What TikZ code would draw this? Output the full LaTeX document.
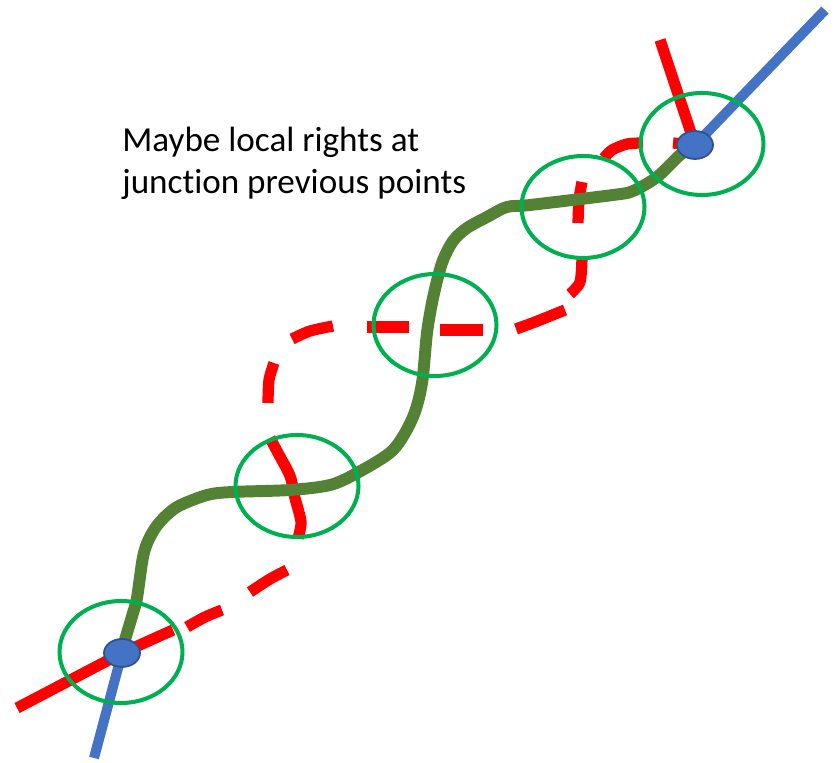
\documentclass[tikz,border=0pt]{standalone}
\usepackage{fontspec}
\setmainfont{Carlito}[Ligatures=NoCommon]
\usetikzlibrary{shapes.geometric}
\definecolor{linkblue}{HTML}{4472C4}
\definecolor{linkedge}{HTML}{2F528F}
\definecolor{zone}{HTML}{00B050}
\definecolor{route}{HTML}{548235}
\definecolor{rights}{HTML}{FF0000}
\begin{document}
\begin{tikzpicture}[x=0.02cm,y=-0.02cm,
  zonering/.style={draw=zone,line width=2.3pt,ellipse,inner sep=0pt,minimum width=2.46cm,minimum height=2.04cm},
  junction/.style={draw=linkedge,line width=1pt,fill=linkblue,ellipse,inner sep=0pt,minimum width=0.72cm,minimum height=0.56cm},
  redline/.style={rights,line width=6.4pt,line join=round},
  greenroute/.style={route,line width=6.8pt,line join=round,line cap=round},
  blueline/.style={linkblue,line width=5.7pt},
  note/.style={anchor=base west,inner sep=0pt,font=\fontsize{20}{24}\selectfont}]
  \useasboundingbox (0,0) rectangle (838,763);
  \coordinate (j1) at (122,653);
  \coordinate (j2) at (695,145);
  \coordinate (tail1) at (94,758);
  \coordinate (tail2) at (825,10);
  \node[note] (note1) at (122,152) {Maybe local rights at};
  \node[note] (note2) at (122,194) {junction previous points};
  \draw[redline] (17,708) -- (j1) -- (173,630);
  \draw[redline] plot[smooth] coordinates {(187,627) (205,617) (222,610)};
  \draw[redline] plot[smooth] coordinates {(250,592) (270,579) (287,570)};
  \draw[redline] plot[smooth] coordinates {(298,538) (301,522) (295,498) (290,476) (278,453) (270,438)};
  \draw[redline] plot[smooth] coordinates {(268,403) (269,380) (274,363)};
  \draw[redline] plot[smooth] coordinates {(292,339) (310,331) (333,326)};
  \draw[redline] (367,327) -- (409,327);
  \draw[redline] (440,330) -- (483,330);
  \draw[redline] plot[smooth] coordinates {(516,329) (535,322) (550,316) (565,310)};
  \draw[redline] plot[smooth] coordinates {(570,294) (580,282) (582,257)};
  \draw[redline] plot[smooth] coordinates {(578,223) (579,200) (582,182)};
  \draw[redline] plot[smooth] coordinates {(604,158) (612,150) (627,144) (643,143)};
  \draw[redline] (673,143) -- (j2);
  \draw[redline] (660,40) -- (j2);
  \draw[greenroute] plot[smooth] coordinates {(j1) (125,640) (133,613) (137,598) (143,557) (149,539) (159,523) (177,507) (207,495) (232,492) (290,490) (330,485) (357,473) (393,450) (413,417) (422,383) (427,333) (433,298) (442,263) (453,241) (467,228) (487,217) (507,207) (530,205) (613,195) (633,191) (657,177) (680,155) (j2)};
  \draw[blueline] (j1) -- (tail1);
  \draw[blueline] (j2) -- (tail2);
  \node[junction] (stop1) at (j1) {};
  \node[junction] (stop2) at (j2) {};
  \node[zonering] (c1) at (121,652) {};
  \node[zonering] (c2) at (297,486) {};
  \node[zonering] (c3) at (435,325) {};
  \node[zonering] (c4) at (583,207) {};
  \node[zonering] (c5) at (702,144) {};
\end{tikzpicture}
\end{document}
